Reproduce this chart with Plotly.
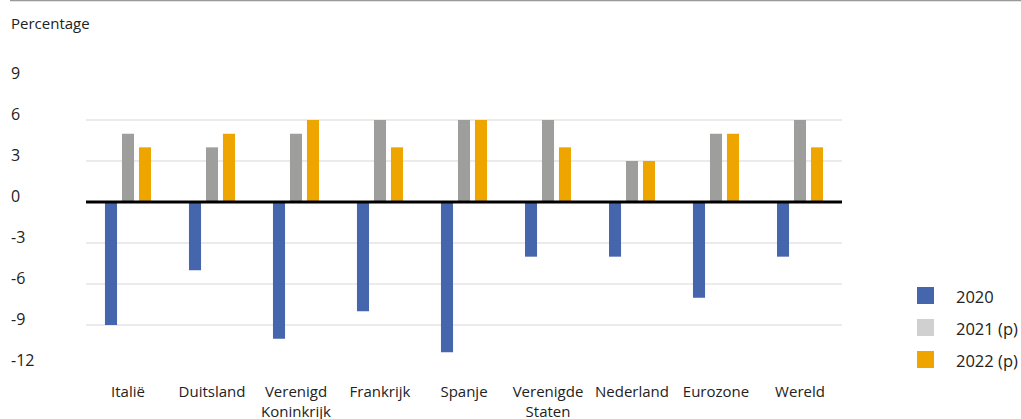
import plotly.graph_objects as go

# Economic growth per country, percentage change
categories = ["Italië", "Duitsland", "Verenigd<br>Koninkrijk", "Frankrijk", "Spanje",
              "Verenigde<br>Staten", "Nederland", "Eurozone", "Wereld"]
series_names = ["2020", "2021 (p)", "2022 (p)"]
values_2020 = [-9, -5, -10, -8, -11, -4, -4, -7, -4]
values_2021 = [5, 4, 5, 6, 6, 6, 3, 5, 6]
values_2022 = [4, 5, 6, 4, 6, 4, 3, 5, 4]
y_ticks = [9, 6, 3, 0, -3, -6, -9, -12]

bar_colors = ["#4565AD", "#9E9E9C", "#EEA500"]
legend_colors = ["#4565AD", "#D0D0D0", "#EEA500"]

FONT = "'Open Sans', Lato, sans-serif"
TEXT = "#222222"

fig = go.Figure()
for name, vals, col in zip(series_names, [values_2020, values_2021, values_2022], bar_colors):
    fig.add_trace(go.Bar(x=categories, y=vals, name=name, marker=dict(color=col, line=dict(width=0)),
                         showlegend=False))

# zero line
fig.add_shape(type="line", xref="paper", yref="y", x0=0, x1=1, y0=0, y1=0,
              line=dict(color="#000000", width=3))

annotations = []
# y tick labels, left aligned at the page edge
for t in y_ticks:
    annotations.append(dict(text=str(t), xref="paper", yref="y", x=-77 / 756, y=t,
                            xanchor="left", yanchor="middle", yshift=6, showarrow=False,
                            font=dict(family=FONT, size=16, color=TEXT)))
annotations.append(dict(text="Percentage", xref="paper", yref="paper", x=-77 / 756, y=1,
                        xanchor="left", yanchor="middle", yshift=56, showarrow=False,
                        font=dict(family=FONT, size=15, color=TEXT)))

# custom legend
shapes = []
W, H = 756, 287
for i, (name, col) in enumerate(zip(series_names, legend_colors)):
    top = 287 + i * 32
    shapes.append(dict(type="rect", xref="paper", yref="paper",
                       x0=(917 - 86) / W, x1=(934 - 86) / W,
                       y0=(366 - (top + 17)) / H, y1=(366 - top) / H,
                       fillcolor=col, line=dict(width=0)))
    annotations.append(dict(text=name, xref="paper", yref="paper", x=(954 - 86) / W,
                            y=(366 - (top + 9)) / H, xanchor="left", yanchor="middle",
                            showarrow=False, font=dict(family=FONT, size=16.5, color=TEXT)))

# rule across the top of the page
shapes.append(dict(type="line", xref="paper", yref="paper",
                   x0=(10 - 86) / W, x1=(1021 - 86) / W, y0=(366 - 0.5) / H, y1=(366 - 0.5) / H,
                   line=dict(color="#999999", width=1.5)))

fig.update_layout(
    shapes=fig.layout.shapes + tuple(shapes),
    annotations=annotations,
    width=1021, height=419,
    margin=dict(l=86, r=179, t=79, b=53),
    paper_bgcolor="white", plot_bgcolor="white",
    barmode="group", bargap=0.393, bargroupgap=0.29,
    font=dict(family=FONT, size=15, color=TEXT),
    xaxis=dict(showline=False, showgrid=False, ticks="", ticklabelstandoff=15, automargin=False,
               tickfont=dict(family=FONT, size=15, color=TEXT)),
    yaxis=dict(range=[-12, 9], tickvals=y_ticks, showticklabels=False, showgrid=True,
               automargin=False, gridcolor="#EBEBEB", gridwidth=1.5, zeroline=False,
               showline=False),
)

fig.write_html("out.html")
